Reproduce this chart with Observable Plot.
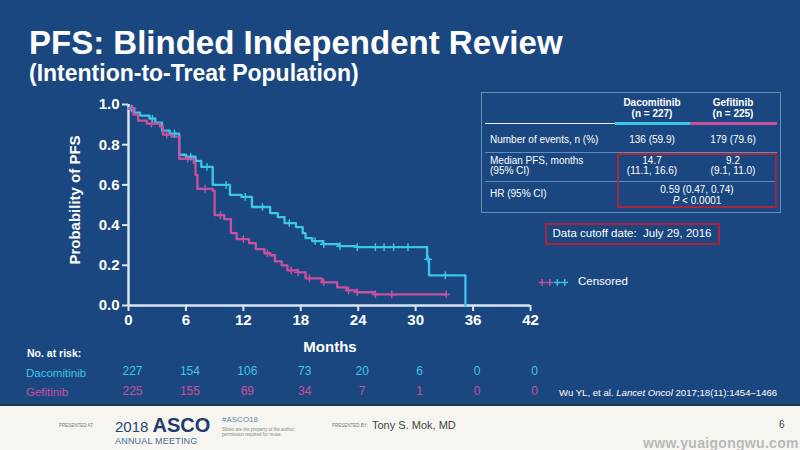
<!DOCTYPE html>
<html><head><meta charset="utf-8">
<script src="https://cdn.jsdelivr.net/npm/d3@7"></script>
<script src="https://cdn.jsdelivr.net/npm/@observablehq/plot@0.6"></script>
<style>
body{margin:0;background:#fff;}
#slide{position:relative;width:800px;height:450px;background:#1b4780;overflow:hidden;font-family:"Liberation Sans",Arial,sans-serif;color:#fff;}
.a{position:absolute;white-space:nowrap;line-height:1;}
.c{transform:translateX(-50%);text-align:center;}
#plot{position:absolute;left:0;top:0;}
#footer{position:absolute;left:0;top:404px;width:800px;height:46px;background:#f6f5f0;border-top:2px solid #22384c;}
#footer .a{color:#555;}
</style></head><body>
<div id="slide">
  <div id="plot"></div>
  <div class="a" style="left:29px;top:26px;font-size:33px;font-weight:bold;">PFS: Blinded Independent Review</div>
  <div class="a" style="left:29px;top:62px;font-size:23px;font-weight:bold;">(Intention-to-Treat Population)</div>
  <div class="a" style="left:74px;top:200px;font-size:15px;font-weight:bold;transform:translate(-50%,-50%) rotate(-90deg);">Probability of PFS</div>
  <div class="a c" style="left:330px;top:339px;font-size:15px;font-weight:bold;">Months</div>
  <div class="a" style="left:27px;top:348px;font-size:10.5px;font-weight:bold;">No. at risk:</div>
  <div id="riskLabels"></div>
  <div id="table"></div>
  <div class="a" style="left:545px;top:223px;width:171px;height:18px;border:2px solid #a8253d;"></div>
  <div class="a c" style="left:632px;top:228px;font-size:11.5px;white-space:pre;">Data cutoff date:  July 29, 2016</div>
  <div class="a" style="left:578px;top:276px;font-size:11.5px;">Censored</div>
  <div class="a" style="left:559px;top:388px;font-size:9.6px;">Wu YL, et al. <i>Lancet Oncol</i> 2017;18(11):1454–1466</div>
  <div id="footer">
    <div class="a" style="left:59px;top:18px;font-size:4.5px;color:#777;">PRESENTED AT:</div>
    <div class="a" style="left:115px;top:9px;font-size:15px;line-height:20px;color:#27457a;">2018 <b style="font-size:20px;color:#1f3c6e;">ASCO</b></div>
    <div class="a" style="left:115px;top:31px;font-size:9px;color:#4a6a94;letter-spacing:0.2px;">ANNUAL MEETING</div>
    <div class="a" style="left:222px;top:10px;font-size:8px;color:#6a86a8;">#ASCO18</div>
    <div class="a" style="left:222px;top:21px;font-size:4.5px;color:#888;line-height:1.2;">Slides are the property of the author,<br>permission required for reuse.</div>
    <div class="a" style="left:332px;top:18px;font-size:4.5px;color:#777;">PRESENTED BY:</div>
    <div class="a" style="left:372px;top:14px;font-size:11px;color:#444;">Tony S. Mok, MD</div>
    <div class="a" style="left:779px;top:14px;font-size:10px;color:#444;">6</div>
    <div class="a" style="left:643px;top:30px;font-size:14px;font-weight:bold;color:#b9b9b9;letter-spacing:0.3px;">www.yuaigongwu.com</div>
  </div>
</div>
<script>
// ---- data ----
const months = [0, 6, 12, 18, 24, 30, 36, 42];
const yTicks = [0, 0.2, 0.4, 0.6, 0.8, 1.0];
const arms = ["Dacomitinib", "Gefitinib"];
const armColors = ["#3cc6e8", "#c8509f"];
const armN = [227, 225];

const dacoT = [0, 0.6, 1.2, 2.2, 2.8, 3.5, 4.3, 5.3, 6.0, 7.0, 7.6, 8.8, 10.6, 11.8, 12.9, 14.8, 15.6, 16.3, 17.5, 18.2, 18.5, 19.2, 20.3, 22.0, 23.8, 31.2, 31.4, 35.2];
const dacoS = [0.98, 0.96, 0.945, 0.93, 0.91, 0.87, 0.855, 0.75, 0.74, 0.72, 0.69, 0.60, 0.55, 0.54, 0.49, 0.46, 0.44, 0.41, 0.39, 0.36, 0.335, 0.32, 0.305, 0.295, 0.29, 0.23, 0.15, 0.0];
const gefiT = [0, 0.5, 1.0, 1.9, 3.3, 3.6, 4.5, 5.3, 6.8, 7.0, 7.2, 8.8, 9.0, 10.0, 10.7, 11.3, 12.6, 13.3, 14.2, 14.8, 15.3, 16.0, 16.6, 17.7, 18.5, 20.2, 21.8, 22.8, 23.8, 25.7, 33.2];
const gefiS = [0.98, 0.95, 0.92, 0.905, 0.89, 0.85, 0.84, 0.73, 0.71, 0.65, 0.58, 0.57, 0.45, 0.43, 0.36, 0.33, 0.31, 0.28, 0.26, 0.25, 0.22, 0.2, 0.175, 0.165, 0.135, 0.115, 0.09, 0.075, 0.066, 0.055, 0.055];
const dacoCensorT = [0.3, 2.5, 4.8, 6.5, 8.2, 10.2, 12.2, 14.0, 16.8, 19.5, 20.4, 22.1, 23.9, 25.8, 26.7, 27.7, 29.2, 31.3, 33.1];
const gefiCensorT = [0.4, 2.4, 4.0, 6.2, 8.0, 9.6, 12.0, 14.5, 17.0, 17.7, 18.9, 20.4, 23.0, 23.9, 25.8, 27.5, 33.2];

const riskDaco = [227, 154, 106, 73, 20, 6, 0, 0];
const riskGefi = [225, 155, 69, 34, 7, 1, 0, 0];

const events = ["136 (59.9)", "179 (79.6)"];
const medianPFS = ["14.7", "9.2"];
const medianCI = ["(11.1, 16.6)", "(9.1, 11.0)"];
const hrText = "0.59 (0.47, 0.74)";
const pText = "< 0.0001";
const rowLabels = ["Number of events, n (%)", "Median PFS, months", "(95% CI)", "HR (95% CI)"];

// ---- build chart ----
const curveData = (T, S, arm) => T.map((t, i) => ({t, s: S[i], arm}));
const survAt = (T, S, t) => { let v = S[0]; for (let i = 0; i < T.length; i++) if (T[i] <= t) v = S[i]; return v; };
const curves = [...curveData(dacoT, dacoS, arms[0]), ...curveData(gefiT, gefiS, arms[1])];
const censors = [
  ...dacoCensorT.map(t => ({t, s: survAt(dacoT, dacoS, t), arm: arms[0]})),
  ...gefiCensorT.map(t => ({t, s: survAt(gefiT, gefiS, t), arm: arms[1]}))
];
const risk = [
  ...months.map((t, i) => ({t, n: riskDaco[i], arm: arms[0]})),
  ...months.map((t, i) => ({t, n: riskGefi[i], arm: arms[1]}))
];
const axisCol = "#d8e6f4";

const chart = Plot.plot({
  width: 800, height: 403,
  marginLeft: 128, marginRight: 270, marginTop: 104, marginBottom: 98,
  x: {domain: [0, 42]},
  y: {domain: [0, 1]},
  color: {domain: arms, range: armColors},
  style: {background: "transparent", color: "#fff", fontFamily: "Liberation Sans, Arial, sans-serif", fontWeight: "bold", overflow: "visible"},
  marks: [
    Plot.axisY({ticks: yTicks, tickFormat: d3.format(".1f"), tickSize: 6, tickPadding: 3, fontSize: 15, stroke: axisCol, strokeWidth: 2, label: null}),
    Plot.axisX({ticks: months, tickSize: 6, tickPadding: 3, fontSize: 15, stroke: axisCol, strokeWidth: 2, label: null}),
    Plot.ruleX([0], {stroke: axisCol, strokeWidth: 2.5}),
    Plot.ruleY([0], {stroke: axisCol, strokeWidth: 2.5}),
    Plot.line(curves, {x: "t", y: "s", z: "arm", stroke: "arm", curve: "step-after", strokeWidth: 2.3}),
    Plot.dot(censors, {x: "t", y: "s", stroke: "arm", symbol: "plus", r: 2.6, strokeWidth: 1.4}),
    Plot.text(risk.filter(d => d.arm === arms[0]), {x: "t", text: "n", frameAnchor: "bottom", dy: 69, dx: 4, fill: armColors[0], fontSize: 12, fontWeight: "normal"}),
    Plot.text(risk.filter(d => d.arm === arms[1]), {x: "t", text: "n", frameAnchor: "bottom", dy: 89, dx: 4, fill: armColors[1], fontSize: 12, fontWeight: "normal"})
  ]
});
document.getElementById("plot").appendChild(chart);

// risk row labels
const rl = document.getElementById("riskLabels");
arms.forEach((a, i) => {
  const d = document.createElement("div");
  d.className = "a";
  d.style.cssText = `left:26px;top:${368 + i * 19}px;font-size:11.5px;color:${armColors[i]};`;
  d.textContent = a;
  rl.appendChild(d);
});

// stats table
const tb = document.getElementById("table");
const add = (html, css, cls = "a") => { const d = document.createElement("div"); d.className = cls; d.style.cssText = css; d.innerHTML = html; tb.appendChild(d); };
add("", "left:481px;top:92px;width:298px;height:119px;border:1px solid rgba(170,200,230,0.55);");
const colX = [652, 733];
arms.forEach((a, i) => {
  add(`${a}<br>(n = ${armN[i]})`, `left:${colX[i]}px;top:98px;font-size:10px;font-weight:bold;line-height:1.05;`, "a c");
  add(events[i], `left:${colX[i]}px;top:135px;font-size:10px;`, "a c");
  add(`${medianPFS[i]}<br>${medianCI[i]}`, `left:${colX[i]}px;top:156px;font-size:10px;line-height:1.0;`, "a c");
});
add("", "left:485px;top:123px;width:130px;height:1px;background:#e8eef5;");
add("", `left:615px;top:122px;width:75px;height:3px;background:${armColors[0]};`);
add("", `left:690px;top:122px;width:87px;height:3px;background:${armColors[1]};`);
add(rowLabels[0], "left:490px;top:135px;font-size:10px;");
add("", "left:485px;top:152px;width:292px;height:1px;background:#5f8cc0;");
add(`${rowLabels[1]}<br>${rowLabels[2]}`, "left:490px;top:156px;font-size:10px;line-height:1.0;");
add("", "left:485px;top:181px;width:292px;height:1px;background:#5f8cc0;");
add(rowLabels[3], "left:490px;top:189px;font-size:10px;");
add(`${hrText}<br><i>P</i> ${pText}`, "left:697px;top:185px;font-size:10px;line-height:1.05;", "a c");
add("", "left:617px;top:153px;width:156px;height:51px;border:2px solid #a8253d;");

// censored legend markers
const lg = Plot.plot({
  width: 30, height: 10, margin: 0,
  x: {domain: [0, 4], axis: null}, y: {domain: [0, 1], axis: null},
  style: {background: "transparent", overflow: "visible"},
  marks: [Plot.dot([0, 1, 2, 3], {x: d => d + 0.5, y: 0.5, symbol: "plus", r: 2.4, strokeWidth: 1.4, stroke: (d, i) => i < 2 ? armColors[1] : armColors[0]})]
});
lg.style.cssText = "position:absolute;left:538px;top:277px;";
document.getElementById("slide").appendChild(lg);
</script>
</body></html>
